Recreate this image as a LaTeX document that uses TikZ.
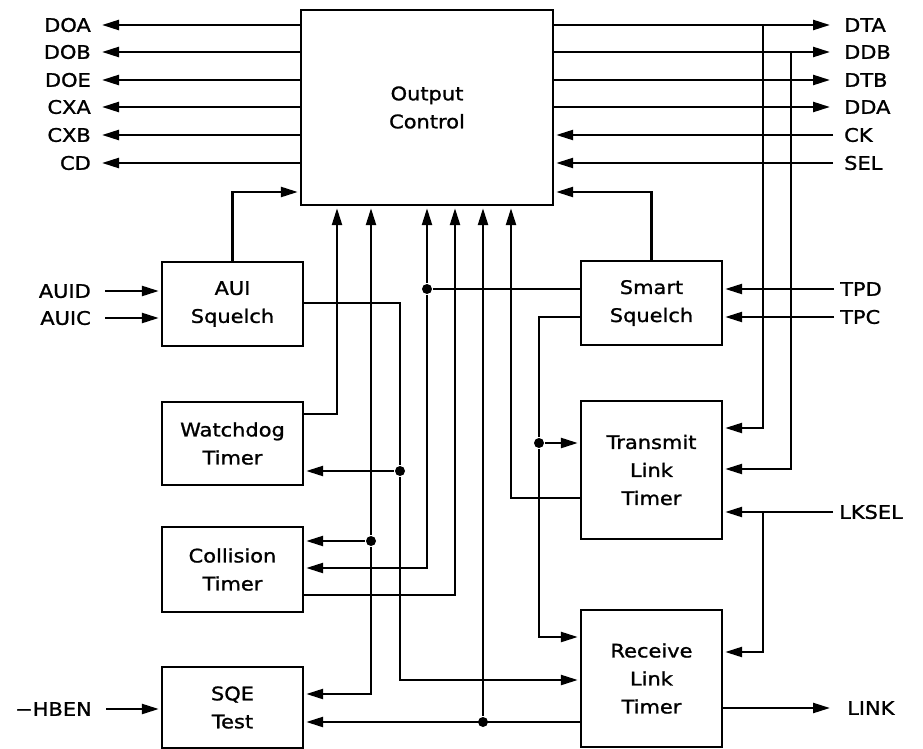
\documentclass[tikz,border=0pt]{standalone}
\usepackage{fontspec}
\setmainfont[FakeStretch=1.12, FakeBold=1.2]{DejaVu Sans}
\usetikzlibrary{arrows.meta}

\begin{document}
\begin{tikzpicture}[
  x=1pt, y=-1pt,
  font=\fontsize{18.7pt}{28pt}\selectfont,
  line width=2.4pt,
  box/.style={draw, line width=2.4pt, minimum width=141pt, inner sep=0pt, align=center},
  sig/.style={inner sep=0pt, text height=13.6pt, text depth=0pt},
  arrow/.style={-{Triangle[length=17pt, width=10pt]}, shorten >=2pt},
  dot/.style={circle, fill, inner sep=0pt, minimum size=10pt}
]
\useasboundingbox (0,0) rectangle (923,749);

\node[box, minimum width=252pt, minimum height=195pt] (oc) at (427,107.5) {Output\\Control};
\node[box, minimum height=84pt] (aui) at (232.5,304) {AUI\\Squelch};
\node[box, minimum height=83pt] (wd) at (232.5,443.5) {Watchdog\\Timer};
\node[box, minimum height=85pt] (ct) at (232.5,569.5) {Collision\\Timer};
\node[box, minimum height=81pt] (sqe) at (232.5,707.5) {SQE\\Test};
\node[box, minimum height=84pt] (ss) at (651.5,303) {Smart\\Squelch};
\node[box, minimum height=138pt] (tlt) at (651.5,470) {Transmit\\Link\\Timer};
\node[box, minimum height=137pt] (rlt) at (651.5,678.5) {Receive\\Link\\Timer};

\foreach \name/\txt/\y in {doa/DOA/25, dob/DOB/52, doe/DOE/80, cxa/CXA/107, cxb/CXB/135, cd/CD/163}
  \node[sig, anchor=east] (\name) at (92,\y) {\txt};
\foreach \name/\txt/\y in {dta/DTA/25, ddb/DDB/52, dtb/DTB/80, dda/DDA/107, ck/CK/135, sel/SEL/163}
  \node[sig, anchor=west] (\name) at (843,\y) {\txt};
\node[sig, anchor=east] (auid) at (92,291) {AUID};
\node[sig, anchor=east] (auic) at (92,318) {AUIC};
\node[sig, anchor=east] (hben) at (93,709) {\char"2212 HBEN};
\node[sig, anchor=west] (tpd) at (839,289) {TPD};
\node[sig, anchor=west] (tpc) at (839,317) {TPC};
\node[sig, anchor=west] (lksel) at (838,512) {LKSEL};
\node[sig, anchor=west] (link) at (846,708) {LINK};

\node[dot] (jaui) at (400,471) {};
\node[dot] (jct) at (371,541) {};
\node[dot] (jss) at (427,289) {};
\node[dot] (jrlt) at (483,722) {};
\node[dot] (jtlt) at (539,443) {};

\foreach \name in {doa,dob,doe,cxa,cxb,cd}
  \draw[arrow, shorten >=10pt] (oc.west |- \name.east) -- (\name.east);
\foreach \name in {dta,ddb,dtb,dda}
  \draw[arrow, shorten >=13pt] (oc.east |- \name.west) -- (\name.west);
\foreach \name in {ck,sel}
  \draw[arrow, shorten <=10pt] (\name.west) -- (oc.east |- \name.west);
\draw[arrow] (aui.north) |- (oc.west |- 0,192);
\draw[arrow] (ss.north) |- (oc.east |- 0,192);
\foreach \name in {auid,auic}
  \draw[arrow, shorten <=13pt] (\name.east) -- (aui.west |- \name.east);
\draw[arrow, shorten <=13pt] (hben.east) -- (sqe.west |- hben.east);
\foreach \name in {tpd,tpc}
  \draw[arrow, shorten <=5pt] (\name.west) -- (ss.east |- \name.west);

\draw[arrow] (dta.west -| 763,0) |- (tlt.east |- 0,428);
\draw[arrow] (ddb.west -| 791,0) |- (tlt.east |- 0,469);
\draw[arrow, shorten <=5pt] (lksel.west) -- (tlt.east |- lksel.west);
\draw[arrow] (lksel.west -| 763,0) |- (rlt.east |- 0,652);
\draw[arrow, shorten >=16pt] (rlt.east |- link.west) -- (link.west);

\draw[arrow] (wd.east |- 0,414) -| (oc.south -| 337,0);
\draw[arrow] (jct) -- (oc.south -| jct);
\draw[arrow] (jct) -- (ct.east |- jct);
\draw[arrow] (jct) |- (sqe.east |- 0,694);
\draw (ss.west |- jss) -- (jss);
\draw[arrow] (jss) -- (oc.south -| jss);
\draw[arrow] (jss) |- (ct.east |- 0,568);
\draw[arrow] (ct.east |- 0,595) -| (oc.south -| 455,0);
\draw[arrow] (rlt.west |- jrlt) -- (sqe.east |- jrlt);
\draw[arrow] (jrlt) -- (oc.south -| jrlt);
\draw[arrow] (tlt.west |- 0,498) -| (oc.south -| 511,0);
\draw (ss.west |- 0,317) -| (jtlt);
\draw[arrow] (jtlt) -- (tlt.west |- jtlt);
\draw[arrow] (jtlt) |- (rlt.west |- 0,637);
\draw (aui.east |- 0,303) -| (jaui);
\draw[arrow] (jaui) -- (wd.east |- jaui);
\draw[arrow] (jaui) |- (rlt.west |- 0,680);
\end{tikzpicture}
\end{document}
